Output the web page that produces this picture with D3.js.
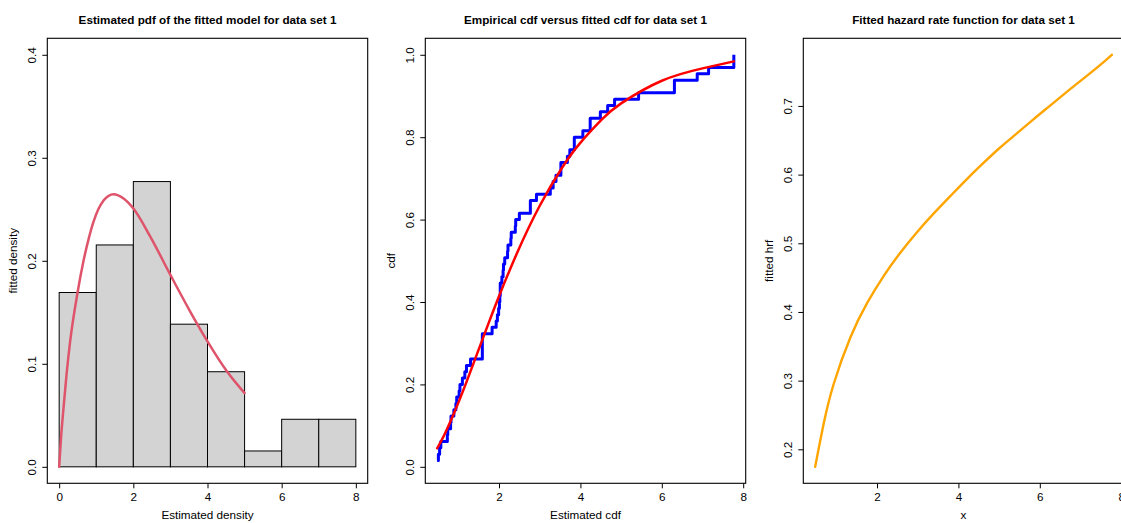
<!DOCTYPE html>
<html>
<head>
<meta charset="utf-8">
<script src="https://cdn.jsdelivr.net/npm/d3@7"></script>
<style>
  body { margin: 0; background: white; }
  svg { display: block; font-family: 'Liberation Sans', Arial, Helvetica, sans-serif; }
</style>
</head>
<body>
<div id="chart"></div>
<script>
// sorted sample
const sample = [
  0.48, 0.51, 0.54, 0.57, 0.73, 0.74, 0.81, 0.82, 0.89, 0.94, 0.96,
  1.02, 1.04, 1.10, 1.16, 1.20, 1.30, 1.59, 1.59, 1.59, 1.59, 1.83, 1.93, 1.96, 1.99,
  2.01, 2.02, 2.03, 2.03, 2.07, 2.10, 2.11, 2.14, 2.21, 2.22, 2.29, 2.30, 2.40, 2.41, 2.50, 2.77, 2.77, 2.92,
  3.26, 3.33, 3.40, 3.52, 3.52, 3.68, 3.74, 3.85, 3.85,
  4.06, 4.24, 4.24, 4.49, 4.67, 4.84,
  5.43,
  6.31, 6.31, 6.87,
  7.15, 7.77, 7.77
]
const binEdges = [0, 1, 2, 3, 4, 5, 6, 7, 8]

// fitted pdf
const pdfX = [0, 0.05, 0.117, 0.2, 0.297, 0.495, 0.657, 0.8, 0.927, 1.197, 1.467, 1.737, 2.007, 2.457, 2.997, 3.537, 3.987, 4.527, 5.0]
const pdfY = [0, 0.028, 0.057, 0.09, 0.122, 0.169, 0.2, 0.222, 0.238, 0.2585, 0.2647, 0.2605, 0.2505, 0.2235, 0.1865, 0.1505, 0.1225, 0.0925, 0.0716]

// fitted cdf
const cdfX = [0.48, 0.657, 0.927, 1.197, 1.467, 1.737, 2.007, 2.457, 2.997, 3.537, 3.987, 4.527, 5.0, 6.0, 7.0, 7.77]
const cdfY = [0.045, 0.078, 0.138, 0.205, 0.276, 0.347, 0.416, 0.522, 0.633, 0.724, 0.785, 0.843, 0.882, 0.937, 0.967, 0.984]

// fitted hazard rate
const hrfX = [0.48, 0.69, 0.935, 1.345, 1.755, 2.162, 2.572, 2.982, 3.389, 3.8, 4.209, 4.616, 5.026, 5.436, 5.843, 6.253, 6.663, 7.07, 7.48, 7.77]
const hrfY = [0.1745, 0.2375, 0.2951, 0.3628, 0.4128, 0.4523, 0.4863, 0.5162, 0.5431, 0.5686, 0.5935, 0.617, 0.6395, 0.66, 0.6805, 0.7005, 0.7205, 0.7398, 0.7595, 0.7745]

const ticks1X = [0, 2, 4, 6, 8]
const ticks1Y = [0, 0.1, 0.2, 0.3, 0.4]
const ticks2X = [2, 4, 6, 8]
const ticks2Y = [0, 0.2, 0.4, 0.6, 0.8, 1.0]
const ticks3X = [2, 4, 6, 8]
const ticks3Y = [0.2, 0.3, 0.4, 0.5, 0.6, 0.7]

const W = 1121, H = 523
const figW = 378
const box = { left: 47.3, width: 320.4, top: 38.3, bottom: 483.3 }
const fs = 11.7

const svg = d3.select('#chart').append('svg')
  .attr('width', W)
  .attr('height', H)

svg.append('rect').attr('width', W).attr('height', H).attr('fill', 'white')

// R style 4% padding on a range
const pad = ([a, b]) => [a - (b - a) * 0.04, b + (b - a) * 0.04]

const panel = (i, xDomain, yDomain, xTicks, yTicks, main, xlab, ylab) => {
  const x0 = i * figW + box.left
  const g = svg.append('g')
  const x = d3.scaleLinear().domain(xDomain).range([x0, x0 + box.width])
  const y = d3.scaleLinear().domain(yDomain).range([box.bottom, box.top])

  const xAxis = g.append('g')
    .attr('transform', 'translate(0,' + box.bottom + ')')
    .call(d3.axisBottom(x).tickValues(xTicks).tickFormat(d3.format('d')).tickSize(5).tickPadding(4.4))
  xAxis.select('.domain').remove()
  xAxis.selectAll('text').attr('font-size', fs).attr('font-family', null).attr('fill', '#000')

  const yAxis = g.append('g')
    .attr('transform', 'translate(' + x0 + ',0)')
    .call(d3.axisLeft(y).tickValues(yTicks).tickFormat(d3.format('.1f')).tickSize(5))
  yAxis.select('.domain').remove()
  yAxis.selectAll('text')
    .attr('transform', 'rotate(-90)')
    .attr('x', 0)
    .attr('y', -11.6)
    .attr('dy', 0)
    .attr('text-anchor', 'middle')
    .attr('font-size', fs)
    .attr('font-family', null)
    .attr('fill', '#000')
  g.selectAll('.tick line').attr('stroke', '#000')

  g.append('text')
    .attr('x', x0 + box.width / 2)
    .attr('y', 24)
    .attr('text-anchor', 'middle')
    .attr('font-size', fs)
    .attr('font-weight', 'bold')
    .text(main)

  g.append('text')
    .attr('x', x0 + box.width / 2)
    .attr('y', 518.5)
    .attr('text-anchor', 'middle')
    .attr('font-size', fs)
    .text(xlab)

  g.append('text')
    .attr('transform', 'translate(' + (x0 - 30.5) + ',' + ((box.top + box.bottom) / 2) + ') rotate(-90)')
    .attr('text-anchor', 'middle')
    .attr('font-size', fs)
    .text(ylab)

  return { g, x, y, x0 }
}

const frame = p => {
  p.g.append('rect')
    .attr('x', p.x0)
    .attr('y', box.top)
    .attr('width', box.width)
    .attr('height', box.bottom - box.top)
    .attr('fill', 'none')
    .attr('stroke', '#000')
    .attr('stroke-width', 1.1)
}

const curve = (p, xs, ys, color, width, shape) => {
  p.g.append('path')
    .datum(d3.zip(xs, ys))
    .attr('fill', 'none')
    .attr('stroke', color)
    .attr('stroke-width', width)
    .attr('stroke-linecap', 'round')
    .attr('d', d3.line().x(d => p.x(d[0])).y(d => p.y(d[1])).curve(shape))
}

// panel 1: histogram + fitted pdf
const p1 = panel(0, pad([0, 8]), pad([0, 0.4]), ticks1X, ticks1Y,
  'Estimated pdf of the fitted model for data set 1', 'Estimated density', 'fitted density')

const bins = d3.bin()
  .domain([binEdges[0], binEdges[binEdges.length - 1]])
  .thresholds(binEdges.slice(1, -1))(sample)

const dens = d => d.length / (sample.length * (d.x1 - d.x0))

p1.g.selectAll('rect.bar')
  .data(bins)
  .enter().append('rect')
  .classed('bar', true)
  .attr('x', d => p1.x(d.x0))
  .attr('width', d => p1.x(d.x1) - p1.x(d.x0))
  .attr('y', d => p1.y(dens(d)))
  .attr('height', d => p1.y(0) - p1.y(dens(d)))
  .attr('fill', '#D3D3D3')
  .attr('stroke', '#000')
  .attr('stroke-width', 1)

curve(p1, pdfX, pdfY, '#DF536B', 2.5, d3.curveMonotoneX)
frame(p1)

// panel 2: empirical cdf vs fitted cdf
const p2 = panel(1, pad(d3.extent(sample)), pad([0, 1]), ticks2X, ticks2Y,
  'Empirical cdf versus fitted cdf for data set 1', 'Estimated cdf', 'cdf')

p2.g.append('path')
  .datum(sample.map((v, i) => [v, (i + 1) / sample.length]))
  .attr('fill', 'none')
  .attr('stroke', '#0000FF')
  .attr('stroke-width', 3)
  .attr('stroke-linejoin', 'round')
  .attr('d', d3.line().x(d => p2.x(d[0])).y(d => p2.y(d[1])).curve(d3.curveStepAfter))

curve(p2, cdfX, cdfY, '#FF0000', 2.5, d3.curveNatural)
frame(p2)

// panel 3: fitted hazard rate
const p3 = panel(2, pad(d3.extent(hrfX)), pad(d3.extent(hrfY)), ticks3X, ticks3Y,
  'Fitted hazard rate function for data set 1', 'x', 'fitted hrf')

curve(p3, hrfX, hrfY, '#FFA500', 2.4, d3.curveNatural)
frame(p3)
</script>
</body>
</html>
